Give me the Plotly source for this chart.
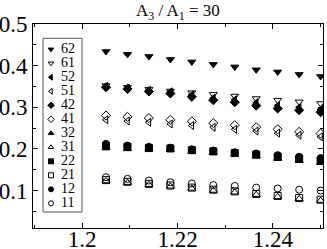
import plotly.graph_objects as go

# ---- data ----
x_vals = [1.205, 1.2095, 1.214, 1.2185, 1.223, 1.2275, 1.232, 1.2365, 1.241, 1.2455, 1.25]

s62 = [0.434, 0.427, 0.422, 0.415, 0.409, 0.403, 0.397, 0.390, 0.385, 0.379, 0.374]
s61 = [0.352, 0.348, 0.343, 0.339, 0.335, 0.331, 0.327, 0.321, 0.317, 0.313, 0.309]
s52 = [0.350, 0.346, 0.341, 0.337, 0.330, 0.322, 0.318, 0.311, 0.304, 0.300, 0.295]
s51 = [0.270, 0.267, 0.264, 0.260, 0.256, 0.252, 0.247, 0.243, 0.238, 0.233, 0.229]
s42 = [0.348, 0.344, 0.338, 0.333, 0.325, 0.317, 0.312, 0.304, 0.297, 0.293, 0.288]
s41 = [0.280, 0.277, 0.274, 0.270, 0.266, 0.262, 0.257, 0.252, 0.247, 0.241, 0.237]
s32 = [0.202, 0.200, 0.199, 0.198, 0.194, 0.191, 0.187, 0.183, 0.177, 0.172, 0.167]
s31 = [0.123, 0.119, 0.114, 0.110, 0.105, 0.100, 0.096, 0.090, 0.085, 0.080, 0.076]
s22 = [0.207, 0.205, 0.202, 0.201, 0.197, 0.194, 0.190, 0.186, 0.181, 0.176, 0.172]
s21 = [0.125, 0.121, 0.116, 0.112, 0.107, 0.102, 0.098, 0.092, 0.087, 0.082, 0.078]
s12 = [0.212, 0.208, 0.205, 0.203, 0.199, 0.196, 0.192, 0.189, 0.185, 0.181, 0.178]
s11 = [0.132, 0.128, 0.124, 0.120, 0.117, 0.113, 0.111, 0.107, 0.105, 0.102, 0.100]

series_names = ["62", "61", "52", "51", "42", "41", "32", "31", "22", "21", "12", "11"]
series_values = [s62, s61, s52, s51, s42, s41, s32, s31, s22, s21, s12, s11]
series_symbols = ["triangle-down", "triangle-down-open", "triangle-left", "triangle-left-open",
                  "diamond", "diamond-open", "triangle-up", "triangle-up-open",
                  "square", "square-open", "circle", "circle-open"]

x_ticks = [1.2, 1.22, 1.24]
y_ticks = [0.1, 0.2, 0.3, 0.4, 0.5]
title_text = "A<sub>3</sub> / A<sub>1</sub> = 30"

FONT = "Liberation Serif, Times New Roman, serif"

fig = go.Figure()
for name, vals, sym in zip(series_names, series_values, series_symbols):
    fig.add_trace(go.Scatter(
        x=x_vals, y=vals, mode="markers", name=name, showlegend=False,
        marker=dict(symbol=sym, size=7, color="black", line=dict(color="black", width=1)),
    ))

# custom compact legend (overlay axes in plot-area fractions)
n = len(series_names)
W, H = 290.0, 204.0
leg_y = [1 - (49.3 + 14.0 * i - 24) / H for i in range(n)]
leg_mx = (51 - 33) / W
leg_tx = (61 - 33) / W
fig.add_trace(go.Scatter(
    x=[leg_mx] * n, y=leg_y, mode="markers", showlegend=False, xaxis="x2", yaxis="y2",
    marker=dict(symbol=series_symbols, size=5, color="black", line=dict(color="black", width=1)),
))
fig.add_trace(go.Scatter(
    x=[leg_tx] * n, y=leg_y, mode="text", text=series_names, textposition="middle right",
    showlegend=False, xaxis="x2", yaxis="y2", hoverinfo="skip",
    textfont=dict(family=FONT, size=14, color="black"),
))
fig.add_shape(type="rect", xref="x2", yref="y2",
              x0=(43 - 33) / W, x1=(82 - 33) / W,
              y0=1 - (212 - 24) / H, y1=1 - (38.3 - 24) / H,
              line=dict(color="#555", width=1))

fig.add_annotation(x=0.5, y=1, xref="paper", yref="paper", yshift=-1, text=title_text,
                   showarrow=False, xanchor="center", yanchor="bottom",
                   font=dict(family=FONT, size=17, color="black"))

axis_common = dict(showgrid=False, zeroline=False, showline=True, linecolor="black", linewidth=1,
                   mirror="ticks", ticks="inside", ticklen=5, tickcolor="black", tickwidth=1,
                   automargin=False,
                   tickfont=dict(family=FONT, size=23, color="black"))
fig.update_layout(
    width=327, height=249,
    margin=dict(l=33, r=4, t=24, b=21, autoexpand=False),
    paper_bgcolor="white", plot_bgcolor="white",
    xaxis=dict(range=[1.1897, 1.2505], tickvals=x_ticks, ticktext=[f"{v:g}" for v in x_ticks],
               ticklabelstandoff=-10,
               minor=dict(ticks="inside", ticklen=3, dtick=0.01, tick0=1.2, tickcolor="black"),
               **axis_common),
    yaxis=dict(range=[0.01, 0.5], tickvals=y_ticks, ticktext=[f"{v:g}" for v in y_ticks],
               minor=dict(ticks="inside", ticklen=3, dtick=0.05, tick0=0.0, tickcolor="black"),
               **axis_common),
    xaxis2=dict(overlaying="x", range=[0, 1], visible=False),
    yaxis2=dict(overlaying="y", range=[0, 1], visible=False),
    showlegend=False,
)

fig.write_html("out.html", config={"displayModeBar": False},
               post_script="document.body.style.margin='0';document.body.style.padding='0';")
